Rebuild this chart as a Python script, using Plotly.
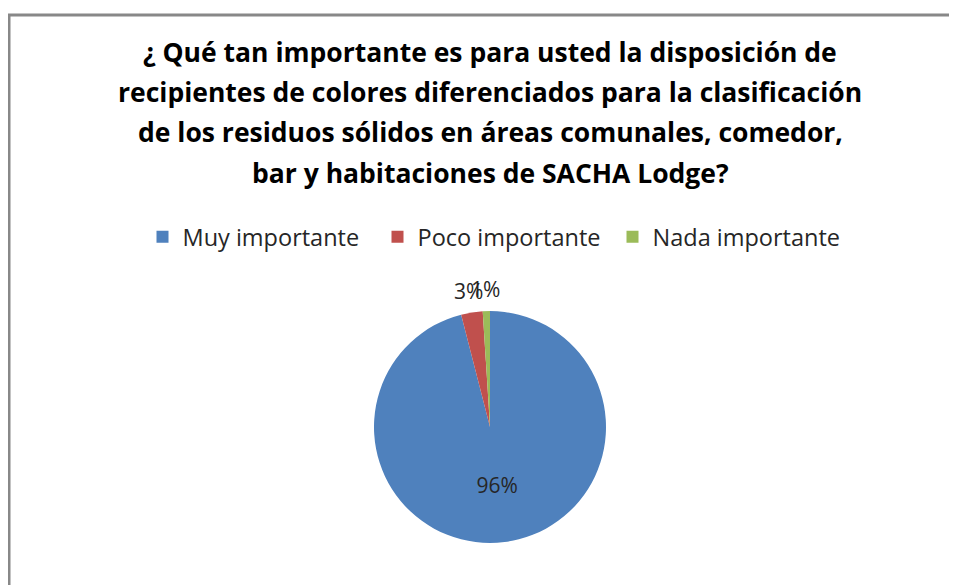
import math
import plotly.graph_objects as go

# Encuesta SACHA Lodge - recipientes de colores diferenciados
categorias = ["Muy importante", "Poco importante", "Nada importante"]
porcentajes = [96, 3, 1]
colores = ["#4F81BD", "#C0504D", "#9BBB59"]

titulo = ["¿ Qué tan importante es para usted la disposición de",
          "recipientes de colores diferenciados para la clasificación",
          "de los residuos sólidos en áreas comunales, comedor,",
          "bar y habitaciones de SACHA Lodge?"]

W, H = 957, 585
OFF = 8                     # the page body adds an 8px margin
cx, cy, r = 490 - OFF, 427 - OFF, 116
FONT = "Open Sans"

fig = go.Figure()
fig.add_trace(go.Pie(
    labels=categorias,
    values=porcentajes,
    marker=dict(colors=colores, line=dict(color="white", width=0)),
    sort=False,
    direction="clockwise",
    rotation=0,
    texttemplate="%{percent:.0%}",
    textposition=["inside", "none", "none"],
    insidetextorientation="horizontal",
    textfont=dict(family=FONT, size=21, color="#262626"),
    domain=dict(x=[(cx - 160) / W, (cx + 160) / W],
                y=[(H - cy - r) / H, (H - cy + r) / H]),
    hoverinfo="label+percent",
))

# etiquetas externas de los sectores pequeños, sobre la bisectriz de cada sector
total = sum(porcentajes)
acum = 0
for i, v in enumerate(porcentajes):
    mid = (acum + v / 2) / total * 2 * math.pi
    acum += v
    if i == 0:
        continue
    d = r + 22
    fig.add_annotation(
        x=(cx + d * math.sin(mid)) / W, y=1 - (cy - d * math.cos(mid)) / H,
        xref="paper", yref="paper", xanchor="center", yanchor="middle",
        text=f"{round(v / total * 100)}%", showarrow=False,
        font=dict(family=FONT, size=21, color="#262626"))

for k, linea in enumerate(titulo):
    fig.add_annotation(
        x=cx / W, y=1 - (52 - OFF + 40.2 * k) / H,
        xref="paper", yref="paper", xanchor="center", yanchor="middle",
        text=f"<b>{linea}</b>", showarrow=False,
        font=dict(family=FONT, size=26.5, color="black"))

fig.add_shape(type="rect", xref="paper", yref="paper",
              x0=1 / W, x1=1.05, y0=-0.05, y1=1 - 7 / H,
              line=dict(color="#888888", width=3))

fig.update_layout(
    width=W, height=H,
    margin=dict(l=0, r=0, t=0, b=0),
    paper_bgcolor="white",
    legend=dict(orientation="h", x=(495 - OFF) / W, xanchor="center",
                y=1 - (237 - OFF) / H, yanchor="middle",
                font=dict(family=FONT, size=23.5, color="#262626"),
                itemwidth=30, entrywidth=190, entrywidthmode="pixels",
                traceorder="normal"),
    font=dict(family=FONT),
)

fig.write_html("out.html")
